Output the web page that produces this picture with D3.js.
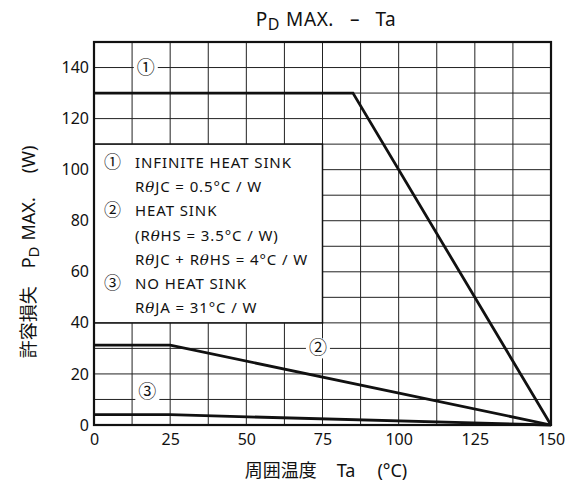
<!DOCTYPE html>
<html lang="ja">
<head>
    <meta charset="UTF-8">
    <script src="https://d3js.org/d3.v7.min.js"></script>
    <title>PD MAX. - Ta</title>
    <style>
        body { margin: 0; background: white; }
        text { font-family: "Noto Sans", "Noto Sans CJK JP", sans-serif; fill: #111; }
        .jp { font-family: "Noto Sans CJK JP", sans-serif; }
    </style>
</head>
<body>
<div id="chart"></div>
<script>
    const width = 577, height = 496;
    const margin = {top: 42, right: 26, bottom: 71, left: 94};

    // data: power derating curves (Ta in °C, PD in W)
    const infiniteSink = [[0, 130], [85, 130], [150, 0]];
    const heatSink = [[0, 31.25], [25, 31.25], [150, 0]];
    const noSink = [[0, 4.03], [25, 4.03], [150, 0]];
    const xTicks = [0, 25, 50, 75, 100, 125, 150];
    const yTicks = [0, 20, 40, 60, 80, 100, 120, 140];
    const legendLines = [
        {mark: "①", text: "INFINITE HEAT SINK"},
        {mark: "", text: "RθJC = 0.5°C / W"},
        {mark: "②", text: "HEAT SINK"},
        {mark: "", text: "(RθHS = 3.5°C / W)"},
        {mark: "", text: "RθJC + RθHS = 4°C / W"},
        {mark: "③", text: "NO HEAT SINK"},
        {mark: "", text: "RθJA = 31°C / W"}
    ];
    const curveLabels = [
        {mark: "①", ta: 17, pd: 140},
        {mark: "②", ta: 73.5, pd: 30},
        {mark: "③", ta: 17.5, pd: 13}
    ];

    const svg = d3.select("#chart").append("svg")
        .attr("width", width)
        .attr("height", height);

    const x = d3.scaleLinear().domain([0, 150]).range([margin.left, width - margin.right]);
    const y = d3.scaleLinear().domain([0, 150]).range([height - margin.bottom, margin.top]);

    // grid
    const grid = svg.append("g").attr("stroke", "#222").attr("stroke-width", 1);
    grid.selectAll(".v").data(d3.range(12.5, 150, 12.5)).enter().append("line")
        .attr("x1", d => x(d)).attr("x2", d => x(d))
        .attr("y1", y(0)).attr("y2", y(150));
    grid.selectAll(".h").data(d3.range(10, 150, 10)).enter().append("line")
        .attr("x1", x(0)).attr("x2", x(150))
        .attr("y1", d => y(d)).attr("y2", d => y(d));

    // legend box
    svg.append("rect")
        .attr("x", x(0)).attr("y", y(110))
        .attr("width", x(75) - x(0)).attr("height", y(40) - y(110))
        .attr("fill", "white").attr("stroke", "#111").attr("stroke-width", 1.5);

    const leg = svg.append("g").attr("font-size", 15).attr("letter-spacing", 0.9);
    legendLines.forEach((l, i) => {
        const ly = 168 + i * 24.2;
        if (l.mark) leg.append("text").attr("x", 104).attr("y", ly).attr("font-size", 17).attr("letter-spacing", 0).text(l.mark);
        const t = leg.append("text").attr("x", 135).attr("y", ly);
        // theta drawn italic like the datasheet
        l.text.split(/(θ)/).forEach(part => {
            if (part === "θ") t.append("tspan").attr("font-style", "italic").attr("font-family", "DejaVu Serif").text(part);
            else if (part) t.append("tspan").text(part);
        });
    });

    // curve labels with white background
    curveLabels.forEach(c => {
        svg.append("rect")
            .attr("x", x(c.ta) - 12).attr("y", y(c.pd) - 10)
            .attr("width", 24).attr("height", 20)
            .attr("fill", "white");
        svg.append("text")
            .attr("x", x(c.ta)).attr("y", y(c.pd) + 6)
            .attr("text-anchor", "middle").attr("font-size", 18)
            .text(c.mark);
    });

    // curves
    const line = d3.line().x(d => x(d[0])).y(d => y(d[1]));
    [infiniteSink, heatSink, noSink].forEach(s => {
        svg.append("path").datum(s)
            .attr("d", line)
            .attr("fill", "none")
            .attr("stroke", "#111")
            .attr("stroke-width", 2.8);
    });

    // frame
    svg.append("rect")
        .attr("x", x(0)).attr("y", y(150))
        .attr("width", x(150) - x(0)).attr("height", y(0) - y(150))
        .attr("fill", "none").attr("stroke", "#111").attr("stroke-width", 2.2);

    // axes
    const xAxis = svg.append("g")
        .attr("transform", `translate(0,${y(0)})`)
        .call(d3.axisBottom(x).tickValues(xTicks).tickSize(0).tickPadding(9));
    xAxis.select(".domain").remove();
    xAxis.selectAll("text").attr("font-size", 16).attr("font-family", "Noto Sans").attr("fill", "#111");

    const yAxis = svg.append("g")
        .attr("transform", `translate(${x(0)},0)`)
        .call(d3.axisLeft(y).tickValues(yTicks).tickSize(0).tickPadding(5));
    yAxis.select(".domain").remove();
    yAxis.selectAll("text").attr("font-size", 16).attr("font-family", "Noto Sans").attr("fill", "#111");

    // title
    const title = svg.append("text")
        .attr("x", 326).attr("y", 26)
        .attr("text-anchor", "middle").attr("font-size", 19).attr("letter-spacing", 0.6);
    title.append("tspan").text("P");
    title.append("tspan").attr("font-size", 16).attr("dy", 4).text("D");
    title.append("tspan").attr("dy", -4).attr("dx", 6).text("MAX.");
    title.append("tspan").attr("dx", 16).text("–");
    title.append("tspan").attr("dx", 16).text("Ta");

    // x label
    const xl = svg.append("text")
        .attr("x", 326).attr("y", 477)
        .attr("text-anchor", "middle").attr("font-size", 18);
    xl.append("tspan").attr("class", "jp").text("周囲温度");
    xl.append("tspan").attr("dx", 20).text("Ta");
    xl.append("tspan").attr("dx", 22).text("(°C)");

    // y label
    const yl = svg.append("text")
        .attr("transform", `translate(35,252) rotate(-90)`)
        .attr("text-anchor", "middle").attr("font-size", 18);
    yl.append("tspan").attr("class", "jp").text("許容損失");
    yl.append("tspan").attr("dx", 18).text("P");
    yl.append("tspan").attr("font-size", 15).attr("dy", 4).text("D");
    yl.append("tspan").attr("dy", -4).attr("dx", 6).text("MAX.");
    yl.append("tspan").attr("dx", 24).text("(W)");
</script>
</body>
</html>
